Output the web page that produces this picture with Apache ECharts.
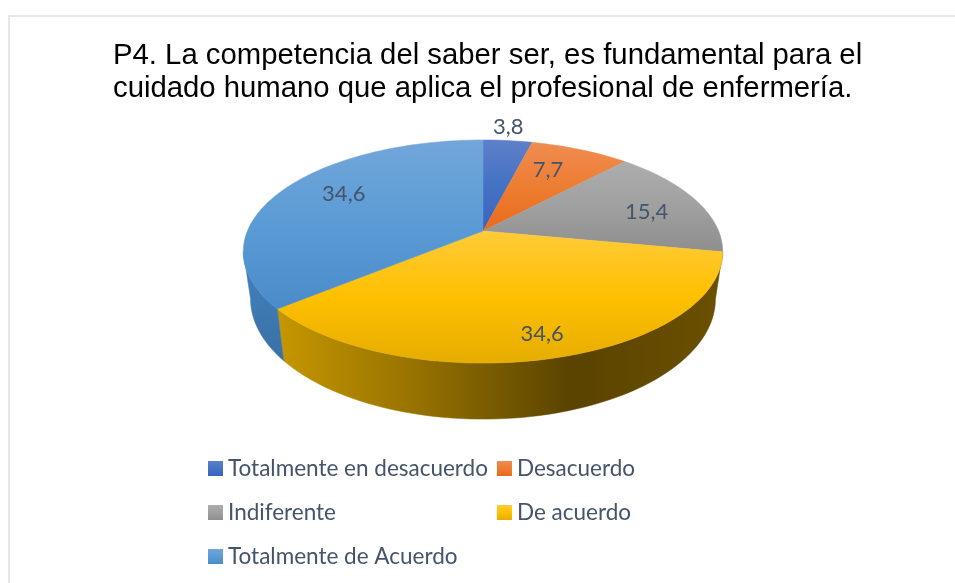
<!DOCTYPE html>
<html>
<head>
<meta charset="utf-8">
<style>
  html, body { margin: 0; padding: 0; background: #fff; }
  #main { width: 955px; height: 583px; }
</style>
<script src="https://cdn.jsdelivr.net/npm/echarts@6/dist/echarts.min.js"></script>
</head>
<body>
<div id="main"></div>
<script>
const titleLines = [
  'P4. La competencia del saber ser, es fundamental para el',
  'cuidado humano que aplica el profesional de enfermería.'
];
const categories = ['Totalmente en desacuerdo', 'Desacuerdo', 'Indiferente', 'De acuerdo', 'Totalmente de Acuerdo'];
const values = [3.8, 7.7, 15.4, 34.6, 34.6];
const valueLabels = ['3,8', '7,7', '15,4', '34,6', '34,6'];
// orden de la leyenda: se llena por columnas
const legendOrder = ['Totalmente en desacuerdo', 'Indiferente', 'Totalmente de Acuerdo', 'Desacuerdo', 'De acuerdo'];

// colores de la cara superior (arriba, centro, abajo)
const topColors = [
  ['#5f80ca', '#4472c4', '#3a64bd'],
  ['#ef8c52', '#ed7d31', '#e96a1c'],
  ['#adadad', '#a0a0a0', '#8e8e8e'],
  ['#ffcb3a', '#ffc000', '#e6ad00'],
  ['#72a6da', '#5b9bd5', '#4a8cc9']
];

// perspectiva del disco: un circulo unitario proyectado a pantalla
const cx = 483, R = 235.6, R2 = 228.5;
const persp = 0.184, ya = -65.3, yb = 231, depth = 45.7;
// donde va cada etiqueta: fraccion del radio y giro en grados
const labelRadius = [1.18, 0.70, 0.74, 0.84, 0.73];
const labelTurn = [-0.8, -2.6, 3.9, -0.3, 5];

const total = values.reduce((a, b) => a + b, 0);

function project(u, v) {
  const w = 1 + persp * v;
  return [cx + R * u / w, (ya * v + yb) / w];
}
function projectBase(u, v) {
  const w = 1 + persp * v;
  return [cx + R2 * u / w, (ya * v + yb + depth) / w];
}
function rim(fn, deg) {
  const a = deg * Math.PI / 180;
  return fn(Math.sin(a), Math.cos(a));
}
function arc(fn, from, to) {
  const pts = [];
  const n = Math.max(2, Math.ceil(Math.abs(to - from) / 2));
  for (let i = 0; i <= n; i++) pts.push(rim(fn, from + (to - from) * i / n));
  return pts;
}
function topGradient(i) {
  const c = topColors[i];
  return {
    type: 'linear', x: 0, y: 0, x2: 0, y2: 1,
    colorStops: [{ offset: 0, color: c[0] }, { offset: 0.5, color: c[1] }, { offset: 1, color: c[2] }]
  };
}
// la pared solo se ve por delante del punto donde el borde da la vuelta
const wallFrom = Math.acos(-persp) * 180 / Math.PI;
const wallTo = 360 - wallFrom;
const wallFills = {
  3: {
    type: 'linear', x: 280, y: 0, x2: 722, y2: 0, global: true,
    colorStops: [
      { offset: 0, color: '#c59600' },
      { offset: 0.3, color: '#977300' },
      { offset: 0.66, color: '#5a4300' },
      { offset: 1, color: '#6b5000' }
    ]
  },
  4: {
    type: 'linear', x: 0, y: 0, x2: 0, y2: 1,
    colorStops: [{ offset: 0, color: '#4183c0' }, { offset: 1, color: '#3a70a5' }]
  }
};

function sliceRenderer(i) {
  return function (params, api) {
    const before = values.slice(0, i).reduce((a, b) => a + b, 0);
    const start = before / total * 360;
    const end = (before + api.value(0)) / total * 360;
    const children = [];

    const wa = Math.max(start, wallFrom), wb = Math.min(end, wallTo);
    if (wb > wa) {
      const fill = wallFills[i];
      children.push({
        type: 'polygon',
        z2: 1,
        shape: { points: arc(project, wa, wb).concat(arc(projectBase, wb, wa)) },
        style: { fill: fill, stroke: fill, lineWidth: 0.5 }
      });
    }

    const fill = topGradient(i);
    children.push({
      type: 'polygon',
      z2: 2,
      shape: { points: [project(0, 0)].concat(arc(project, start, end)) },
      style: { fill: fill, stroke: fill, lineWidth: 0.5 }
    });

    const mid = ((start + end) / 2 + labelTurn[i]) * Math.PI / 180;
    const p = project(Math.sin(mid) * labelRadius[i], Math.cos(mid) * labelRadius[i]);
    children.push({
      type: 'text',
      z2: 3,
      style: {
        x: p[0], y: p[1],
        text: valueLabels[i],
        align: 'center', verticalAlign: 'middle',
        font: '22px Lato',
        fill: '#44546a'
      }
    });
    return { type: 'group', children: children };
  };
}

const chart = echarts.init(document.getElementById('main'));
chart.setOption({
  animation: false,
  backgroundColor: '#ffffff',
  title: {
    text: titleLines.join('\n'),
    left: 113,
    top: 39,
    padding: 0,
    textStyle: { fontFamily: 'Liberation Sans', fontSize: 29.3, fontWeight: 'normal', color: '#000000', lineHeight: 33 }
  },
  legend: {
    orient: 'vertical',
    left: 208,
    top: 451,
    height: 130,
    padding: 0,
    itemGap: 9,
    itemWidth: 15,
    itemHeight: 15,
    icon: 'rect',
    data: legendOrder,
    selectedMode: false,
    textStyle: { fontFamily: 'Lato', fontSize: 22.5, color: '#44546a', lineHeight: 35 }
  },
  graphic: [{
    type: 'rect',
    silent: true,
    shape: { x: 9, y: 16, width: 960, height: 580 },
    style: { fill: 'none', stroke: '#e4e8ee', lineWidth: 2 }
  }],
  series: categories.map((name, i) => ({
    type: 'custom',
    name: name,
    coordinateSystem: 'none',
    silent: true,
    itemStyle: { color: topGradient(i) },
    data: [[values[i]]],
    renderItem: sliceRenderer(i)
  }))
});
</script>
</body>
</html>
